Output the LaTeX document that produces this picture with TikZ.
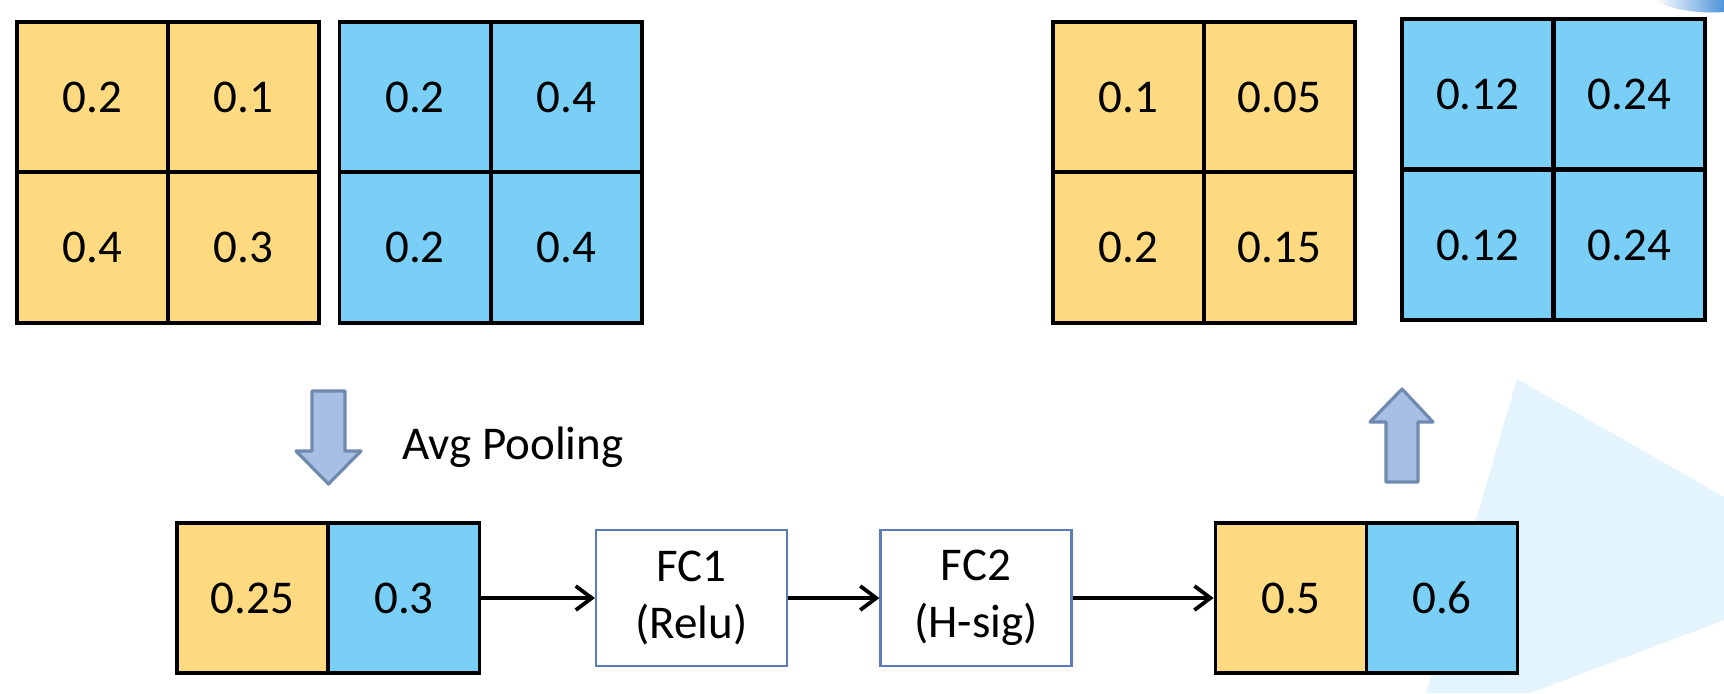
\documentclass[tikz,border=0pt]{standalone}
\usepackage{fontspec}
\setmainfont{Carlito}
\usetikzlibrary{arrows.meta}
\definecolor{cyel}{HTML}{FFDA80}
\definecolor{cblu}{HTML}{7ACFF7}
\definecolor{fcbord}{HTML}{5A7DB5}
\definecolor{barfill}{HTML}{A7BFE3}
\definecolor{barline}{HTML}{7089B0}
\definecolor{bgtri}{HTML}{E4F4FC}
\definecolor{blob}{HTML}{4F95DA}
\begin{document}
\begin{tikzpicture}[x=0.5pt,y=-0.5pt,
  txt/.style={font=\fontsize{23.5}{28.5}\selectfont},
  cell/.style={draw=black, line width=1.9pt, minimum width=75.5pt, minimum height=75.3pt, inner sep=0pt, txt},
  ycell/.style={cell, fill=cyel},
  bcell/.style={cell, fill=cblu},
  fcbox/.style={draw=fcbord, line width=1.1pt, fill=white, minimum width=95.5pt, minimum height=68pt, inner sep=0pt, align=center, txt},
  conn/.style={line width=1.9pt, -{Straight Barb[length=8pt,width=12pt,line width=1.9pt]}},
  blockarrow/.style={fill=barfill, draw=barline, line width=1.6pt, line join=round}]
\useasboundingbox (0,0) rectangle (1724,693);
\fill[white] (0,0) rectangle (1724,693);
% background decorations
\fill[bgtri] (1517,379) -- (1724,497) -- (1724,620) -- (1530,693) -- (1426,693) -- cycle;
\shade[left color=white, right color=blob] (1655,0) -- (1724,0) -- (1724,12) .. controls (1700,14) and (1670,10) .. (1655,0) -- cycle;
% top-left grids
\node[ycell] (ya1) at (92.5,97) {0.2};
\node[ycell] (ya2) at (243.5,97) {0.1};
\node[ycell] (ya3) at (92.5,247.5) {0.4};
\node[ycell] (ya4) at (243.5,247.5) {0.3};
\node[bcell] (ba1) at (415,97) {0.2};
\node[bcell] (ba2) at (566.5,97) {0.4};
\node[bcell] (ba3) at (415,247.5) {0.2};
\node[bcell] (ba4) at (566.5,247.5) {0.4};
% top-right grids
\node[ycell] (yb1) at (1128.5,97) {0.1};
\node[ycell] (yb2) at (1279.5,97) {0.05};
\node[ycell] (yb3) at (1128.5,247.5) {0.2};
\node[ycell] (yb4) at (1279.5,247.5) {0.15};
\node[bcell] (bb1) at (1477.75,94) {0.12};
\node[bcell] (bb2) at (1629.25,94) {0.24};
\node[bcell] (bb3) at (1477.75,245) {0.12};
\node[bcell] (bb4) at (1629.25,245) {0.24};
% block arrows
\draw[blockarrow] (312,391) -- (345,391) -- (345,451) -- (361,451) -- (328.5,484) -- (296,451) -- (312,451) -- cycle;
\draw[blockarrow] (1386,482) -- (1418,482) -- (1418,422) -- (1433,422) -- (1402,389) -- (1370,422) -- (1386,422) -- cycle;
\node[txt, anchor=base west, inner sep=0pt] (avg) at (402,459) {Avg Pooling};
% bottom row
\node[ycell, minimum height=75pt] (py) at (252.5,598) {0.25};
\node[bcell, minimum height=75pt] (pb) at (404,598) {0.3};
\node[fcbox] (fc1) at (691.5,598) {FC1\\(Relu)};
\node[fcbox] (fc2) at (976,598) {FC2\\(H-sig)};
\node[ycell, minimum height=75pt] (oy) at (1291,598) {0.5};
\node[bcell, minimum height=75pt] (ob) at (1442,598) {0.6};
\draw[conn] (pb.east) -- (fc1.west);
\draw[conn] (fc1.east) -- (fc2.west);
\draw[conn] (fc2.east) -- (oy.west);
\end{tikzpicture}
\end{document}
